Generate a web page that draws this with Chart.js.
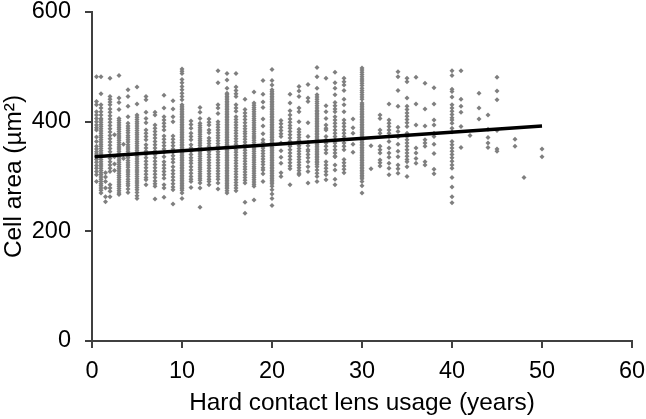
<!DOCTYPE html>
<html>
<head>
<meta charset="utf-8">
<script src="https://cdn.jsdelivr.net/npm/chart.js@4"></script>
<style>
  html, body { margin: 0; padding: 0; background: #fff; }
  canvas { display: block; }
</style>
</head>
<body>
<canvas id="chart" width="646" height="419"></canvas>
<script>
// values, one list per year of usage
const y0_5 = [482,437,431,418,412,406,400,394,389,385,372,364,355,350,345,341,336,331,326,320,315,309,303,291];
const y1 = [482,451,431,425,418,412,406,403,399,395,391,387,383,379,375,371,367,363,359,355,351,347,343,339,335,331,327,323,319,315,311,307,303,299,295,291,287,283,279,275,270];
const y1_5 = [307,299,291,279,263,254];
const y2 = [479,446,441,436,431,423,417,411,405,399,393,387,381,375,369,363,357,351,345,339,333,327,321,315,309,285,279,273,263];
const y2_5 = [376,336,323,311];
const y3 = [484,443,435,422,406,402,398,394,390,386,382,378,374,370,366,362,358,354,350,346,342,338,334,330,326,322,318,314,310,306,302,298,294,290,286,282,278,274,270,267];
const y3_5 = [359,333];
const y4 = [458,446,428,409,397,392,388,384,380,375,371,367,363,358,354,350,346,342,338,334,329,325,321,317,312,308,304,300,295,291,287,283,277,271];
const y5 = [463,432,412,408,404,400,396,392,388,384,380,376,372,368,364,360,356,352,348,344,340,336,332,328,324,320,316,312,308,304,300,296,292,288,284,280,276,271,265,260];
const y6 = [446,440,417,406,398,385,379,373,367,358,352,346,340,334,328,322,316,310,304,298,294,285];
const y7 = [417,412,394,388,382,376,370,364,358,352,346,340,334,328,322,316,310,304,298,292,287,282,259];
const y8 = [448,425,409,403,397,391,385,374,368,362,356,350,344,336,327,321,315,309,303,297,285,279,262];
const y9 = [438,423,409,400,374,368,362,356,350,344,338,332,326,318,311,305,299,293,287,281,276,250];
const y10 = [496,492,488,477,471,464,458,452,446,440,431,428,425,422,419,416,413,410,407,404,401,398,395,392,389,386,383,380,377,374,371,368,365,362,359,356,353,350,347,344,341,338,335,332,329,326,323,320,317,314,311,308,305,302,299,296,293,290,287,284,281,278,275,270,260];
const y11 = [401,395,388,379,373,367,358,352,346,340,334,329,324,318,312,306,300,295,291,280];
const y12 = [426,417,406,397,393,389,385,381,377,373,369,365,361,357,353,349,345,341,337,333,329,325,321,317,313,309,305,301,297,293,288,279,244];
const y13 = [405,399,394,385,380,370,365,360,355,350,345,340,335,330,325,320,315,310,305,300,295,291,285];
const y14 = [493,471,431,425,415,400,395,390,385,380,375,370,365,360,355,350,345,340,335,330,325,320,315,310,305,300,295,288,277];
const y15 = [488,476,461,452,449,446,443,440,437,434,431,428,425,422,419,416,413,410,407,404,401,398,395,392,389,386,383,380,377,374,371,368,365,362,359,356,353,350,347,344,341,338,335,332,329,326,323,320,317,314,311,308,305,302,299,296,293,290,287,284,281,278,274,270];
const y16 = [488,463,457,451,446,431,425,419,409,404,399,394,389,384,379,374,369,364,359,354,349,344,339,334,329,324,319,314,309,304,299,294,289,284,279,274];
const y17 = [441,422,416,410,404,398,392,387,382,378,373,368,363,358,353,348,343,338,333,328,323,318,313,308,303,298,293,288,253,233];
const y18 = [454,434,430,426,422,418,414,410,406,402,398,394,390,386,382,378,374,370,366,362,358,354,350,346,342,338,334,330,326,322,318,314,310,306,302,298,294,290,286,282,257];
const y19 = [475,450,436,426,405,392,378,367,362,357,352,347,342,337,332,327,322,316,312,305,291];
const y20 = [495,475,467,458,455,452,449,446,443,440,437,434,431,428,425,422,419,416,413,410,407,404,401,398,395,392,389,386,383,380,377,374,371,368,365,362,359,356,353,350,347,344,341,338,335,332,329,326,323,320,317,314,311,308,305,302,299,296,293,290,287,282,276,268,260,247];
const y21 = [402,396,390,384,378,373,361,347,335,324,307,300];
const y22 = [450,434,420,412,405,399,393,388,382,376,370,364,358,355,349,343,337,331,325,319,314,285];
const y23 = [464,456,446,425,418,400,386,381,376,371,366,361,356,351,346,341,336,331,326,321,316,311,306,303];
const y24 = [468,443,437,398,373,362,356,349,346,340,334,327,318,309,288];
const y25 = [499,482,461,449,445,441,437,433,429,425,421,418,415,412,409,406,403,400,397,394,391,388,385,382,379,376,373,370,367,364,361,358,355,352,349,346,343,340,337,334,331,328,325,322,318,312,306,300,291];
const y26 = [479,429,418,406,394,388,385,373,367,361,355,349,343,327,321,315,309,303,294];
const y27 = [490,471,461,449,435,429,423,418,409,403,397,391,385,379,373,367,361,355,349,343,337,336,321,312,295,285];
const y28 = [479,473,467,457,441,431,418,403,397,391,385,379,373,367,361,355,349,331,325,319,313,307];
const y29 = [405,389,379,359,344];
const y30 = [498,494,490,486,482,478,474,470,466,461,457,453,449,445,441,434,431,428,425,422,419,416,413,410,407,404,401,398,395,392,389,386,383,380,377,374,371,368,365,362,359,356,353,350,347,344,341,338,335,332,329,326,323,320,317,314,311,308,305,302,299,296,291,283,270];
const y31 = [356,314];
const y32 = [412,406,385,379,355,349,343,330,325,319];
const y33 = [432,403,397,391,385,379,373,364,352,343,335,324,315,303];
const y34 = [491,482,457,428,390,382,372,359,346,336,321,314,306];
const y35 = [479,473,443,428,422,416,410,404,398,391,379,373,367,361,355,349,343,337,331,327,318,300];
const y36 = [481,432,394,352,343,333,324];
const y37 = [470,423,392,367,361,355,327,321];
const y38 = [462,432,403,394,379,373,359,342,313,305];
const y40 = [493,484,459,455,445,431,425,419,413,407,403,397,388,381,364,358,352,346,340,334,328,321,315,298,281,263,252];
const y41 = [493,441,428,417,391,353];
const y42 = [375];
const y43 = [452,425,405];
const y44 = [412,386,371,361,353];
const y45 = [481,456,440,384,350,346];
const y47 = [368,355];
const y48 = [298];
const y50 = [350,336];

const usageYears = [0.5,1,1.5,2,2.5,3,3.5,4,5,6,7,8,9,10,11,12,13,14,15,16,17,18,19,20,21,22,23,24,25,26,27,28,29,30,31,32,33,34,35,36,37,38,40,41,42,43,44,45,47,48,50];
const cellAreas = [y0_5,y1,y1_5,y2,y2_5,y3,y3_5,y4,y5,y6,y7,y8,y9,y10,y11,y12,y13,y14,y15,y16,y17,y18,y19,y20,y21,y22,y23,y24,y25,y26,y27,y28,y29,y30,y31,y32,y33,y34,y35,y36,y37,y38,y40,y41,y42,y43,y44,y45,y47,y48,y50];

const trendX = [0.3, 50];
const trendY = [336, 392];

const xTicks = [0, 10, 20, 30, 40, 50, 60];
const yTicks = [0, 200, 400, 600];

const points = [];
usageYears.forEach((yr, i) => {
  cellAreas[i].forEach(v => points.push({ x: yr, y: v }));
});

const axisColor = '#404040';
const tickFont = { family: '"Liberation Sans", Arial, sans-serif', size: 23.5 };
const titleFont = { family: '"Liberation Sans", Arial, sans-serif', size: 24.4 };

// the plot box is fixed, so drop the room Chart.js keeps for the end labels
function noEndPadding(s) {
  s.paddingLeft = 0;
  s.paddingRight = 0;
  s.paddingTop = 0;
  s.paddingBottom = 0;
}

new Chart(document.getElementById('chart').getContext('2d'), {
  type: 'scatter',
  data: {
    datasets: [
      {
        label: 'Cell area',
        data: points,
        order: 2,
        pointStyle: 'rectRot',
        pointRadius: 2.5,
        backgroundColor: '#7f7f7f',
        borderColor: '#7f7f7f',
        borderWidth: 0
      },
      {
        label: 'Trend',
        type: 'line',
        data: trendX.map((x, i) => ({ x: x, y: trendY[i] })),
        order: 1,
        pointRadius: 0,
        borderColor: '#000',
        borderWidth: 3.6,
        tension: 0
      }
    ]
  },
  options: {
    responsive: false,
    animation: false,
    layout: { padding: { top: 12, right: 14, left: 0, bottom: 0 } },
    plugins: { legend: { display: false }, tooltip: { enabled: false } },
    scales: {
      x: {
        type: 'linear',
        min: 0,
        max: 60,
        afterFit: s => { s.height = 78; noEndPadding(s); },
        afterBuildTicks: s => { s.ticks = xTicks.map(v => ({ value: v })); },
        border: { color: axisColor, width: 2 },
        grid: { drawOnChartArea: false, color: axisColor, lineWidth: 2, tickLength: 7 },
        ticks: { color: '#000', font: tickFont, padding: 9, maxRotation: 0 },
        title: { display: true, text: 'Hard contact lens usage (years)', color: '#000', font: titleFont, padding: { top: 4, bottom: 1 } }
      },
      y: {
        min: 0,
        max: 600,
        afterFit: s => { s.width = 92; noEndPadding(s); },
        afterBuildTicks: s => { s.ticks = yTicks.map(v => ({ value: v })); },
        border: { color: axisColor, width: 2 },
        grid: { drawOnChartArea: false, color: axisColor, lineWidth: 2, tickLength: 7 },
        ticks: { color: '#000', font: tickFont, padding: 14 },
        title: { display: true, text: 'Cell area (µm²)', color: '#000', font: titleFont, padding: { top: 0, bottom: 0 } }
      }
    }
  }
});
</script>
</body>
</html>
